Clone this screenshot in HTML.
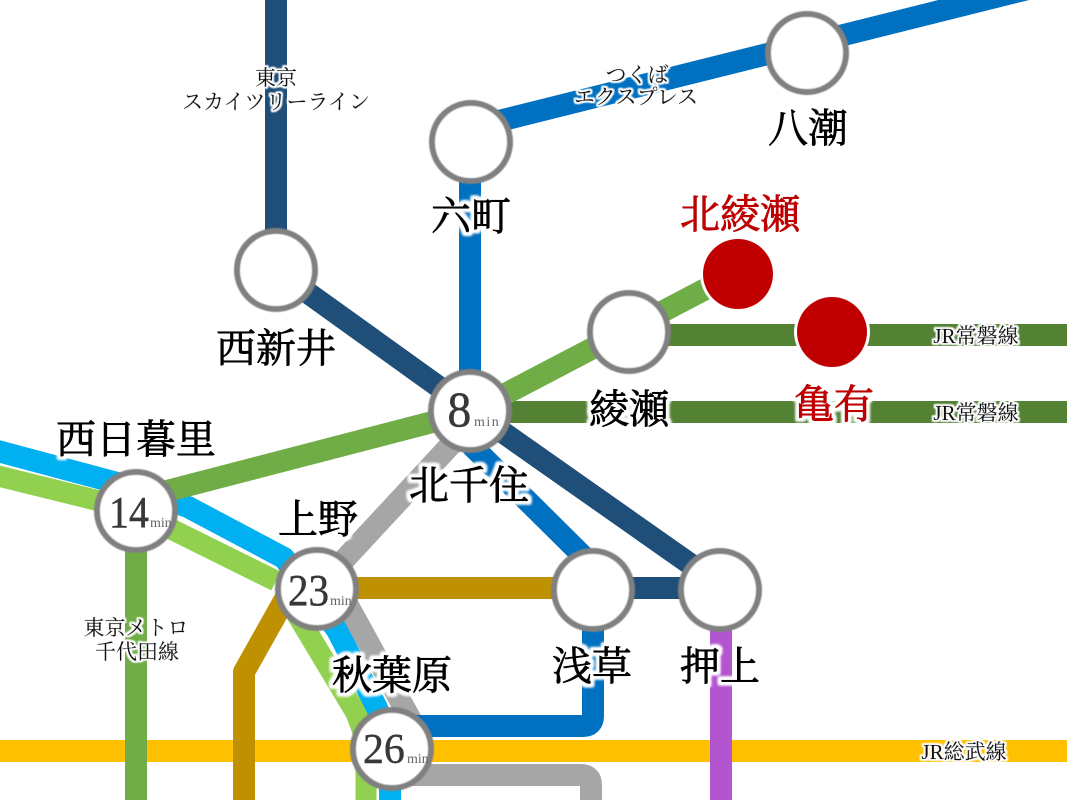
<!DOCTYPE html>
<html><head><meta charset="utf-8"><style>
html,body{margin:0;padding:0;background:#fff}
svg{display:block}
text{font-family:"Liberation Serif","Noto Serif CJK SC",serif;text-anchor:middle}
.l{font-size:40px;fill:#000;stroke:#000;stroke-width:.9px}
.r{font-size:40px;fill:#c00000;stroke:#c00000;stroke-width:1px}
.s{font-size:21px;fill:#111;stroke:#111;stroke-width:.25px}
.n{font-size:38px;fill:#383838;stroke:#383838;stroke-width:.4px;text-anchor:start}
.m{font-size:14px;fill:#666;text-anchor:start}
.ln{fill:none;stroke-width:22px;stroke-linejoin:round}
.st{fill:#fff;stroke:#808080;stroke-width:6px}
</style></head><body>
<svg width="1067" height="800" viewBox="0 0 1067 800" xmlns="http://www.w3.org/2000/svg">
<defs>
<filter id="b" x="-10%" y="-10%" width="120%" height="120%"><feGaussianBlur stdDeviation="0.6"/></filter>
<filter id="h" x="-30%" y="-30%" width="160%" height="160%">
<feMorphology in="SourceAlpha" operator="dilate" radius="3" result="d"/>
<feGaussianBlur in="d" stdDeviation="1.2" result="g"/>
<feFlood flood-color="#fff"/><feComposite in2="g" operator="in" result="w"/>
<feMerge><feMergeNode in="w"/><feMergeNode in="w"/><feMergeNode in="SourceGraphic"/></feMerge>
</filter>
<filter id="h2" x="-30%" y="-30%" width="160%" height="160%">
<feMorphology in="SourceAlpha" operator="dilate" radius="1.5" result="d"/>
<feGaussianBlur in="d" stdDeviation="0.8" result="g"/>
<feFlood flood-color="#fff"/><feComposite in2="g" operator="in" result="w"/>
<feMerge><feMergeNode in="w"/><feMergeNode in="w"/><feMergeNode in="SourceGraphic"/></feMerge>
</filter>
</defs>
<rect width="1067" height="800" fill="#fff"/>
<path class="ln" stroke="#ffc000" d="M0 751H1067"/>
<path class="ln" stroke="#548235" d="M471 412H1067M629 335H1067"/>
<path class="ln" stroke="#b455d0" d="M721 590V800"/>
<path class="ln" stroke="#92d050" d="M-10 474L136 510L175 531L276 581M290 603L356 713L366 740V800" style="stroke-width:21px"/>
<path class="ln" stroke="#00b0f0" d="M-10 449L136 488L188 507L284 558L337 630L377 708L390 745V800"/>
<path class="ln" stroke="#a6a6a6" d="M471 423L317 589M345 600L411 720M391 775H581Q591 775 591 785V800"/>
<path class="ln" stroke="#bf9000" d="M317 588H593M290 590L244 672V800"/>
<path class="ln" stroke="#70ad47" d="M136 800V511M136 499L471 412L738 272"/>
<path class="ln" stroke="#1f4e79" d="M276 0V270L471 410L720 585M593 588H720"/>
<path class="ln" stroke="#0070c0" d="M1100 -29L471 128M470 142V410M471 445L593 566V716Q593 726 583 726H391"/>
<g filter="url(#b)">
<circle class="st" cx="276" cy="270" r="39"/><circle class="st" cx="471" cy="142" r="39"/><circle class="st" cx="807" cy="53" r="39"/><circle class="st" cx="629" cy="332" r="39"/><circle class="st" cx="470" cy="411" r="39"/><circle class="st" cx="136" cy="511" r="39"/><circle class="st" cx="317" cy="589" r="39"/><circle class="st" cx="392" cy="749" r="39"/><circle class="st" cx="593" cy="590" r="39"/><circle class="st" cx="720" cy="590" r="39"/>
</g>
<circle cx="738" cy="274" r="38" fill="#fff"/><circle cx="738" cy="274" r="35" fill="#c00000"/>
<circle cx="832" cy="332" r="38" fill="#fff"/><circle cx="832" cy="332" r="35" fill="#c00000"/>
<text class="n" transform="translate(447.500,426) scale(1.25,1.3)">8</text><text class="m" x="474" y="426" letter-spacing="1.5">min</text>
<text class="n" transform="translate(109,527) scale(1.05,1.16)">14</text><text class="m" x="150" y="527">min</text>
<text class="n" transform="translate(288,605) scale(1.08,1.16)">23</text><text class="m" x="330" y="605">min</text>
<text class="n" transform="translate(363,763) scale(1.1,1.1)">26</text><text class="m" x="407" y="763">min</text>
<g filter="url(#h)">
<text class="l" x="276" y="362">西新井</text>
<text class="l" x="471" y="230">六町</text>
<text class="l" x="808" y="142">八潮</text>
<text class="r" x="740" y="228">北綾瀬</text>
<text class="l" x="629" y="423">綾瀬</text>
<text class="r" x="834" y="418">亀有</text>
<text class="l" x="469" y="499">北千住</text>
<text class="l" x="136" y="453">西日暮里</text>
<text class="l" x="318" y="533">上野</text>
<text class="l" x="392" y="689">秋葉原</text>
<text class="l" x="592" y="680">浅草</text>
<text class="l" x="720" y="680">押上</text>
</g>
<g filter="url(#h2)">
<text class="s" x="276" y="85">東京</text>
<text class="s" x="276" y="109">スカイツリーライン</text>
<text class="s" x="637" y="82">つくば</text>
<text class="s" x="636" y="104">エクスプレス</text>
<text class="s" x="136" y="635">東京メトロ</text>
<text class="s" x="137" y="659">千代田線</text>
<text class="s" x="976" y="343">JR常磐線</text>
<text class="s" x="976" y="420">JR常磐線</text>
<text class="s" x="964" y="759">JR総武線</text>
</g>
</svg>
</body></html>
